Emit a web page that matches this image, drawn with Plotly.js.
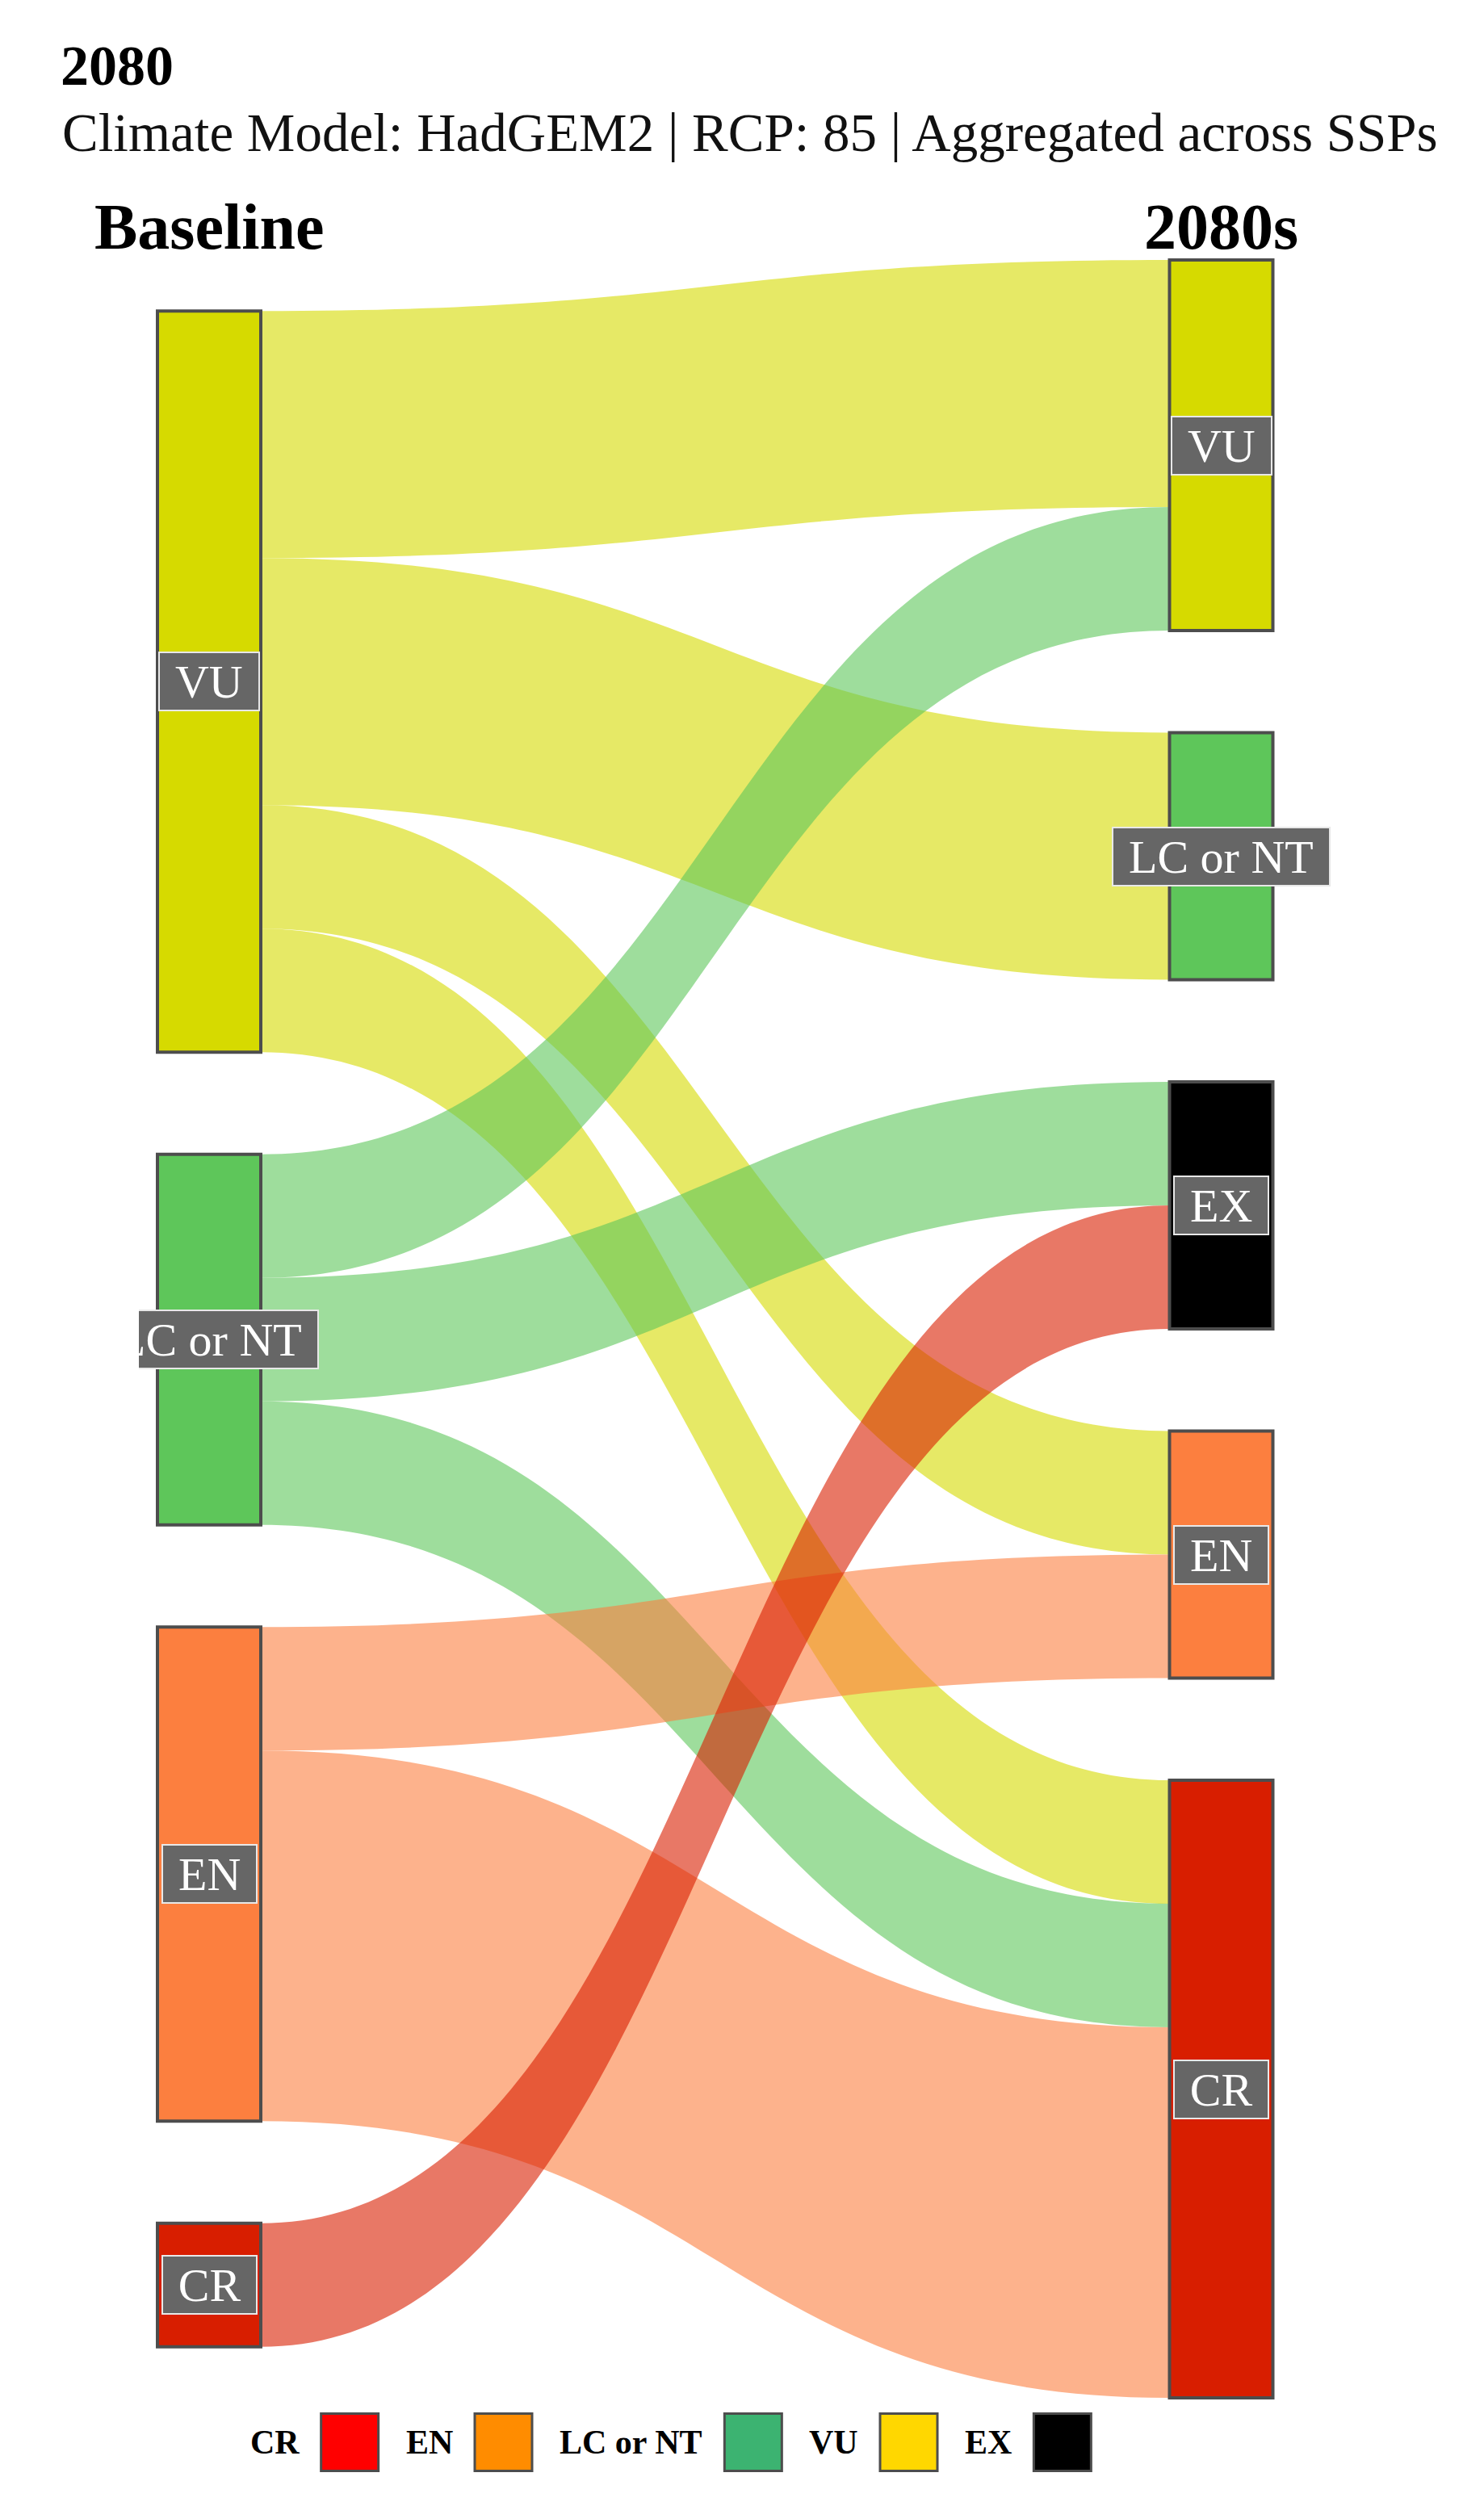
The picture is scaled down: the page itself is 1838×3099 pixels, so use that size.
<!DOCTYPE html>
<html><head><meta charset="utf-8">
<script src="https://cdn.plot.ly/plotly-3.0.1.min.js"></script>
<style>html,body{margin:0;padding:0;background:#fff;}</style>
</head><body>
<div id="chart" style="width:1838px;height:3099px;"></div>
<script>
// ---------------- data ----------------
const titleText = '2080';
const subtitleText = 'Climate Model: HadGEM2 | RCP: 85 | Aggregated across SSPs';
const stageLabels = ['Baseline', '2080s'];
const baselineCats = ['VU', 'LC or NT', 'EN', 'CR'];
const futureCats = ['VU', 'LC or NT', 'EX', 'EN', 'CR'];
const flowFrom = ['VU', 'VU', 'VU', 'VU', 'LC or NT', 'LC or NT', 'LC or NT', 'EN', 'EN', 'CR'];
const flowTo   = ['VU', 'LC or NT', 'EN', 'CR', 'VU', 'EX', 'CR', 'EN', 'CR', 'EX'];
const flowCount = [2, 2, 1, 1, 1, 1, 1, 1, 3, 1];
const nodeCats = ['VU', 'LC or NT', 'EN', 'CR', 'EX'];
const nodeColors = ['#d6da00', '#5ec65a', '#fc7f3f', '#d81e00', '#000000'];
const legendCats = ['CR', 'EN', 'LC or NT', 'VU', 'EX'];
const legendColors = ['#ff0000', '#ff8c00', '#3cb371', '#ffd700', '#000000'];

// ---------------- layout constants ----------------
const W = 1838, HP = 3099;
const plotTop = 322, plotBottom = 2970;
const colX = [259, 1512.5];
const nodeW = 128;
const nodePad = 126.5;
const FONT = '"Liberation Serif", serif';

const colorOf = c => nodeColors[nodeCats.indexOf(c)];
function rgba(hex, a) {
  const n = parseInt(hex.slice(1), 16);
  return `rgba(${(n >> 16) & 255},${(n >> 8) & 255},${n & 255},${a})`;
}
const ctx = document.createElement('canvas').getContext('2d');
function tw(text, size, weight) {
  ctx.font = `${weight || 'normal'} ${size}px "Liberation Serif"`;
  return ctx.measureText(text).width;
}

const columns = [baselineCats, futureCats];
const nodes = [];
columns.forEach((cats, c) => cats.forEach(cat => {
  let v = 0;
  flowCount.forEach((n, i) => { if ((c === 0 ? flowFrom[i] : flowTo[i]) === cat) v += n; });
  nodes.push({ cat, col: c, value: v });
}));
const idx = (c, cat) => nodes.findIndex(n => n.col === c && n.cat === cat);
const H = plotBottom - plotTop;
const ky = Math.min(...columns.map((cats, c) => {
  const tot = nodes.filter(n => n.col === c).reduce((s, n) => s + n.value, 0);
  return (H - (cats.length - 1) * nodePad) / tot;
}));
columns.forEach((cats, c) => {
  const col = nodes.filter(n => n.col === c);
  const span = col.reduce((s, n) => s + n.value * ky, 0) + (col.length - 1) * nodePad;
  let y = (H - span) / 2;
  col.forEach(n => { n.h = n.value * ky; n.cy = y + n.h / 2; y += n.h + nodePad; });
});

const trace = {
  type: 'sankey',
  arrangement: 'fixed',
  domain: { x: [0, 1], y: [1 - plotBottom / HP, 1 - plotTop / HP] },
  hoverinfo: 'none',
  node: {
    label: nodes.map(() => ''),
    customdata: nodes.map(n => n.cat),
    x: nodes.map(n => colX[n.col] / W),
    y: nodes.map(n => n.cy / H),
    pad: nodePad,
    thickness: nodeW,
    color: nodes.map(n => colorOf(n.cat)),
    line: { color: '#4d4d4d', width: 4 },
    hoverinfo: 'none'
  },
  link: {
    source: flowFrom.map(f => idx(0, f)),
    target: flowTo.map(t => idx(1, t)),
    value: flowCount,
    color: flowFrom.map(f => rgba(colorOf(f), 0.6)),
    line: { width: 0 },
    hoverinfo: 'none'
  }
};

const annotations = [];
const shapes = [];

// subtitle
annotations.push({
  xref: 'paper', yref: 'paper', x: 76 / W, y: 1 - 164 / HP,
  xanchor: 'left', yanchor: 'middle', showarrow: false, borderpad: 0,
  text: subtitleText, font: { family: FONT, size: 67, color: '#111' }
});

// stage headers
stageLabels.forEach((s, c) => {
  annotations.push({
    xref: 'paper', yref: 'paper', x: colX[c] / W, y: 1 - 281 / HP,
    xanchor: 'center', yanchor: 'middle', showarrow: false,
    text: '<b>' + s + '</b>', font: { family: FONT, size: 80, color: '#000' }
  });
});

// node labels
const LBL = 58;
nodes.forEach(n => {
  annotations.push({
    xref: 'paper', yref: 'paper', x: colX[n.col] / W, y: 1 - (plotTop + n.cy) / HP,
    xanchor: 'center', yanchor: 'middle', showarrow: false,
    text: n.cat, font: { family: FONT, size: LBL, color: '#ffffff' },
    bgcolor: '#666666', bordercolor: '#e8e8e8', borderwidth: 2, borderpad: 0,
    width: tw(n.cat, LBL) + 38, height: 70, align: 'center', valign: 'middle'
  });
});
// panel clipping on the left edge (labels wider than the panel are cut)
nodes.filter(n => n.col === 0 && tw(n.cat, LBL) + 42 > 2 * (colX[0] - 172)).forEach(n => {
  annotations.push({
    xref: 'paper', yref: 'paper', x: 0, y: 1 - (plotTop + n.cy) / HP,
    xanchor: 'left', yanchor: 'middle', showarrow: false,
    text: '\u00a0', font: { family: FONT, size: 20 },
    bgcolor: '#ffffff', borderwidth: 0, borderpad: 0, width: 172, height: 90
  });
});

// legend
let lx = 309; const ly = 3025; const sq = 71;
legendCats.forEach((cat, i) => {
  const w = tw(cat, 42, 'bold');
  annotations.push({
    xref: 'paper', yref: 'paper', x: lx / W, y: 1 - ly / HP,
    xanchor: 'left', yanchor: 'middle', showarrow: false, borderpad: 0,
    text: '<b>' + cat + '</b>', font: { family: FONT, size: 42, color: '#000' }
  });
  lx += w + 28;
  shapes.push({
    type: 'rect', xref: 'paper', yref: 'paper',
    x0: lx / W, x1: (lx + sq) / W, y0: 1 - (ly + sq / 2) / HP, y1: 1 - (ly - sq / 2) / HP,
    fillcolor: legendColors[i], line: { color: '#4d4d4d', width: 3 }
  });
  lx += sq + 33;
});

const layout = {
  width: W, height: HP,
  margin: { l: 0, r: 0, t: 0, b: 0 },
  paper_bgcolor: '#ffffff',
  font: { family: FONT },
  title: {
    text: '<b>' + titleText + '</b>',
    x: 75 / W, xanchor: 'left', xref: 'container',
    y: 1 - 56 / HP, yanchor: 'top', yref: 'container',
    font: { family: FONT, size: 70, color: '#000' }
  },
  annotations, shapes,
  showlegend: false
};

Plotly.newPlot('chart', [trace], layout, { staticPlot: true, displayModeBar: false });
</script>
</body></html>
